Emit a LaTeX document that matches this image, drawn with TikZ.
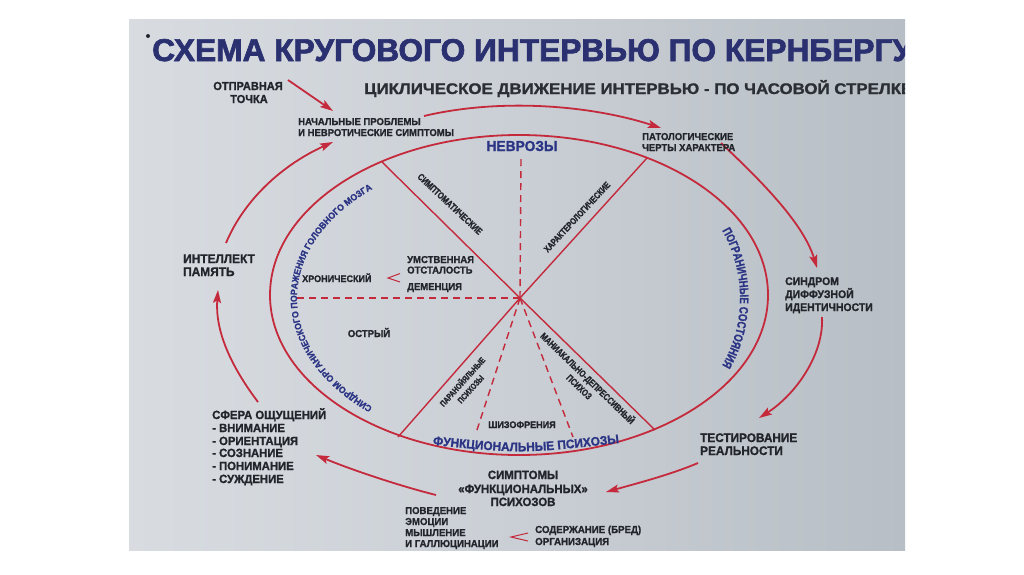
\documentclass[tikz,border=0pt]{standalone}
\usepackage{fontspec}
\usepackage{graphicx}
\setmainfont{Liberation Sans}
\newfontfamily\lf{Liberation Sans}[FakeStretch=0.95, FakeBold=1.2]
\newfontfamily\cf{Liberation Sans}[FakeStretch=0.78, FakeBold=1.0]
\newfontfamily\tf{Liberation Sans}[FakeStretch=0.9, FakeBold=2]
\usetikzlibrary{arrows.meta,decorations.text,shapes.geometric}
\definecolor{redc}{HTML}{C42A3C}
\definecolor{txtc}{HTML}{22252B}
\definecolor{bluec}{HTML}{2C3585}
\definecolor{titlec}{HTML}{2A3070}
\definecolor{subc}{HTML}{2B2E35}
\definecolor{bgA}{HTML}{D8DCE1}
\definecolor{bgB}{HTML}{CACFD5}
\definecolor{bgC}{HTML}{B7BEC5}
\newcommand{\myfs}[1]{\fontsize{#1}{#1}\selectfont}
\begin{document}
\begin{tikzpicture}[x=1pt,y=-1pt,
  lbl/.style={inner sep=0pt, text=txtc, font=\lf\bfseries\myfs{#1}},
  lbl/.default=10,
  clbl/.style={inner sep=0pt, text=txtc, align=center, font=\cf\bfseries\myfs{#1}},
  clbl/.default=9,
  arr/.style={draw=redc, line width=1.8pt, -{Stealth[length=13pt,width=8pt,inset=2.5pt]}},
  spoke/.style={draw=redc, line width=1.4pt},
  dsh/.style={draw=redc, line width=1.4pt, dash pattern=on 7pt off 5pt},
  chev/.style={draw=redc, line width=1pt}]
\useasboundingbox (0,0) rectangle (1024,574);
\fill[white] (0,0) rectangle (1024,574);
\begin{scope}
\clip (129,19) rectangle (905,550);
\shade[left color=bgA, right color=bgC, middle color=bgB] (129,19) rectangle (905,550);

% title
\fill[txtc] (148,36) circle[radius=2];
\node[anchor=base west, inner sep=0pt, text=titlec, font=\tf\bfseries] (title) at (152,61)
  {\resizebox{760pt}{\height}{\myfs{31.5}СХЕМА КРУГОВОГО ИНТЕРВЬЮ ПО КЕРНБЕРГУ}};
\node[anchor=base west, inner sep=0pt, text=subc, font=\lf\bfseries] (sub) at (364,94)
  {\resizebox{548pt}{\height}{\myfs{15.4}ЦИКЛИЧЕСКОЕ ДВИЖЕНИЕ ИНТЕРВЬЮ - ПО ЧАСОВОЙ СТРЕЛКЕ}};

% ellipse and spokes
\node[draw=redc, line width=1.8pt, ellipse, minimum width=498pt, minimum height=320pt, inner sep=0pt] (ell) at (519,295) {};
\coordinate (c) at (520,298);
\coordinate (s1) at (382,162);
\coordinate (s2) at (647,158);
\coordinate (s3) at (398,437);
\coordinate (s4) at (655,430);
\coordinate (d1) at (521,157);
\coordinate (d2) at (293,298);
\coordinate (d3) at (476,433);
\coordinate (d4) at (573,437);
\draw[spoke] (s1) -- (c) -- (s4);
\draw[spoke] (s2) -- (c) -- (s3);
\draw[dsh] (c) -- (d1);
\draw[dsh] (c) -- (d2);
\draw[dsh] (c) -- (d3);
\draw[dsh] (c) -- (d4);

% outer arrows
\coordinate (a0s) at (288,80);   \coordinate (a0e) at (333,111);
\coordinate (a1s) at (424,116);  \coordinate (a1e) at (661,128);
\coordinate (a2s) at (721,143);  \coordinate (a2e) at (817,268);
\coordinate (a3s) at (822,317);  \coordinate (a3e) at (759,418);
\coordinate (a4s) at (698,463);  \coordinate (a4e) at (606,492);
\coordinate (a5s) at (436,495);  \coordinate (a5e) at (316,455);
\coordinate (a6s) at (258,402);  \coordinate (a6e) at (218,290);
\coordinate (a7s) at (226,243);  \coordinate (a7e) at (333,142);
\draw[arr] (a0s) -- (a0e);
\draw[arr] (a1s) .. controls (500,98) and (590,105) .. (a1e);
\draw[arr] (a2s) .. controls (758,178) and (803,222) .. (a2e);
\draw[arr] (a3s) .. controls (824,355) and (795,395) .. (a3e);
\draw[arr] (a4s) .. controls (672,474) and (642,482) .. (a4e);
\draw[arr] (a5s) .. controls (400,486) and (352,470) .. (a5e);
\draw[arr] (a6s) .. controls (230,365) and (215,330) .. (a6e);
\draw[arr] (a7s) .. controls (244,200) and (282,165) .. (a7e);

% chevrons
\draw[chev] (400,273.5) -- (388,278) -- (400,282);
\draw[chev] (528,533) -- (511,537) -- (528,541);

% outer labels
\node[lbl=11.6, anchor=base] (otp1) at (248,90) {ОТПРАВНАЯ};
\node[lbl=11.6, anchor=base] (otp2) at (249,103) {ТОЧКА};
\node[lbl=10, anchor=base west] (np1) at (298,125) {НАЧАЛЬНЫЕ ПРОБЛЕМЫ};
\node[lbl=10, anchor=base west] (np2) at (298,136) {И НЕВРОТИЧЕСКИЕ СИМПТОМЫ};
\node[lbl=10, anchor=base west] (pt1) at (642,140) {ПАТОЛОГИЧЕСКИЕ};
\node[lbl=10, anchor=base west] (pt2) at (642,151) {ЧЕРТЫ ХАРАКТЕРА};
\node[lbl=11, anchor=base west] (sd1) at (785,285) {СИНДРОМ};
\node[lbl=11, anchor=base west] (sd2) at (785,298) {ДИФФУЗНОЙ};
\node[lbl=11, anchor=base west] (sd3) at (785,311) {ИДЕНТИЧНОСТИ};
\node[lbl=12.4, anchor=base west] (tr1) at (700,442) {ТЕСТИРОВАНИЕ};
\node[lbl=12.4, anchor=base west] (tr2) at (700,455) {РЕАЛЬНОСТИ};
\node[lbl=12, anchor=base] (sf1) at (523,479) {СИМПТОМЫ};
\node[lbl=12, anchor=base] (sf2) at (523,493) {«ФУНКЦИОНАЛЬНЫХ»};
\node[lbl=12, anchor=base] (sf3) at (523,506) {ПСИХОЗОВ};
\node[lbl=10.1, anchor=base west] (pv1) at (405,514) {ПОВЕДЕНИЕ};
\node[lbl=10.1, anchor=base west] (pv2) at (405,525) {ЭМОЦИИ};
\node[lbl=10.1, anchor=base west] (pv3) at (405,536) {МЫШЛЕНИЕ};
\node[lbl=10.1, anchor=base west] (pv4) at (405,547) {И ГАЛЛЮЦИНАЦИИ};
\node[lbl=10.2, anchor=base west] (cd1) at (535,533) {СОДЕРЖАНИЕ (БРЕД)};
\node[lbl=10.2, anchor=base west] (cd2) at (535,545) {ОРГАНИЗАЦИЯ};
\node[lbl=11.9, anchor=base west] (so1) at (212,419) {СФЕРА ОЩУЩЕНИЙ};
\node[lbl=11.9, anchor=base west] (so2) at (212,432) {- ВНИМАНИЕ};
\node[lbl=11.9, anchor=base west] (so3) at (212,445) {- ОРИЕНТАЦИЯ};
\node[lbl=11.9, anchor=base west] (so4) at (212,457) {- СОЗНАНИЕ};
\node[lbl=11.9, anchor=base west] (so5) at (212,470) {- ПОНИМАНИЕ};
\node[lbl=11.9, anchor=base west] (so6) at (212,483) {- СУЖДЕНИЕ};
\node[lbl=12.5, anchor=base west] (in1) at (183,263) {ИНТЕЛЛЕКТ};
\node[lbl=12.5, anchor=base west] (in2) at (183,276) {ПАМЯТЬ};

% inner labels
\node[lbl=14.5, text=bluec, anchor=base] (nevr) at (522,151) {НЕВРОЗЫ};
\node[lbl=10, anchor=base west] (um1) at (407,263) {УМСТВЕННАЯ};
\node[lbl=10, anchor=base west] (um2) at (407,273.5) {ОТСТАЛОСТЬ};
\node[lbl=10, anchor=base west] (dem) at (407,290) {ДЕМЕНЦИЯ};
\node[lbl=9.5, anchor=base west] (hron) at (302,282) {ХРОНИЧЕСКИЙ};
\node[lbl=10, anchor=base] (ostr) at (369,337) {ОСТРЫЙ};
\node[lbl=9.5, anchor=base] (shiz) at (522,428) {ШИЗОФРЕНИЯ};
\node[clbl=9.6, rotate=-43] (symp) at (450,204) {СИМПТОМАТИЧЕСКИЕ};
\node[clbl=9.2, rotate=47] (char) at (577,217) {ХАРАКТЕРОЛОГИЧЕСКИЕ};
\node[clbl=8.5, rotate=48] (par) at (466,385) {ПАРАНОЙЯЛЬНЫЕ\\[2.5pt]ПСИХОЗЫ};
\node[clbl=9.5, rotate=-44] (man) at (584,382) {МАНИАКАЛЬНО-ДЕПРЕССИВНЫЙ\\[2.5pt]ПСИХОЗ};

% curved blue labels
\path[decorate, decoration={text along path, text align=center, text color=bluec,
  text={|\lf\bfseries\myfs{9.2}|СИНДРОМ ОРГАНИЧЕСКОГО ПОРАЖЕНИЯ ГОЛОВНОГО МОЗГА}}]
  (519,298) ++(128:222 and 145) arc[start angle=128, end angle=232, x radius=222, y radius=145];
\path[decorate, decoration={text along path, text align=center, text color=bluec,
  text={|\cf\bfseries\myfs{12.3}|ПОГРАНИЧНЫЕ СОСТОЯНИЯ}}]
  (604,298) ++(-33:136) arc[start angle=-33, end angle=33, radius=136];
\path[decorate, decoration={text along path, text align=center, text color=bluec,
  text={|\lf\bfseries\myfs{12.5}|ФУНКЦИОНАЛЬНЫЕ ПСИХОЗЫ}}]
  (424,444) .. controls (522,454) .. (628,442);
\end{scope}
\end{tikzpicture}
\end{document}
